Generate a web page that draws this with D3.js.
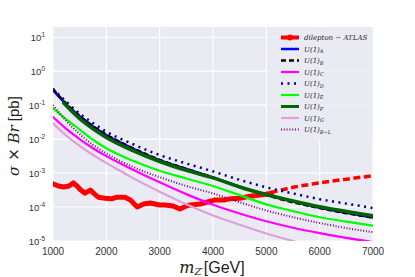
<!DOCTYPE html>
<html>
<head>
<meta charset="utf-8">
<script src="https://cdn.jsdelivr.net/npm/d3@7"></script>
<style>
  body { margin: 0; background: #fff; }
  svg { display: block; }
</style>
</head>
<body>
<div id="chart"></div>
<script>
// masses (GeV) on which the model curves were read
const masses = [1000, 1250, 1500, 1750, 2000, 2500, 3000, 3500, 4000, 4500, 5000, 5500, 6000, 6500, 7000];
const massesF = [1200, 1500, 1750, 2000, 2500, 3000, 3500, 4000, 4500, 5000, 5500, 6000, 6500, 7000];

// sigma x Br (pb)
const sigA = [0.275, 0.105, 0.0468, 0.0234, 0.0132, 0.00525, 0.0024, 0.00132, 0.000741, 0.000398, 0.000229, 0.000145, 0.0000955, 0.0000676, 0.000049];
const sigB = [0.295, 0.11, 0.0479, 0.024, 0.0135, 0.00537, 0.00245, 0.00132, 0.000741, 0.000389, 0.000224, 0.000138, 0.0000933, 0.000066, 0.000049];
const sigC = [0.0447, 0.02, 0.01, 0.00537, 0.00316, 0.00126, 0.000537, 0.00024, 0.000117, 0.0000646, 0.000038, 0.0000245, 0.000017, 0.0000123, 0.0000093];
const sigD = [0.302, 0.126, 0.0562, 0.0295, 0.0166, 0.00708, 0.00339, 0.00191, 0.00112, 0.000631, 0.00038, 0.000251, 0.00017, 0.000126, 0.0000933];
const sigE = [0.0813, 0.038, 0.0191, 0.00955, 0.00537, 0.00229, 0.00117, 0.000692, 0.000417, 0.000224, 0.00012, 0.0000759, 0.0000501, 0.0000372, 0.0000282];
const sigF = [0.115, 0.0398, 0.02, 0.0112, 0.00457, 0.00219, 0.0012, 0.000724, 0.000389, 0.000234, 0.000151, 0.000102, 0.0000741, 0.000055];
const sigG = [0.0295, 0.0126, 0.0063, 0.00339, 0.002, 0.000708, 0.000282, 0.00012, 0.0000562, 0.0000302, 0.0000166, 0.00001, 0.0000063, 0.000004, 0.0000025];
const sigBL = [0.1, 0.0339, 0.0141, 0.00676, 0.0038, 0.00151, 0.000759, 0.000417, 0.000251, 0.000138, 0.0000794, 0.0000501, 0.0000339, 0.000024, 0.0000182];

// ATLAS dilepton limit, observed (solid) and extension (dashed)
const atlasMass = [1000, 1100, 1200, 1300, 1380, 1450, 1520, 1600, 1700, 1780, 1850, 1980, 2100, 2200, 2350, 2450, 2580, 2700, 2820, 3000, 3100, 3250, 3380, 3500, 3570, 3760, 3900, 4040, 4200, 4320, 4500, 4700, 4880, 5000, 5100];
const atlasSig = [4.79e-4, 4.17e-4, 3.89e-4, 4.17e-4, 5.13e-4, 4.17e-4, 3.16e-4, 2.57e-4, 3.16e-4, 2.4e-4, 1.95e-4, 1.82e-4, 1.74e-4, 1.95e-4, 1.95e-4, 1.62e-4, 1.0e-4, 1.23e-4, 1.32e-4, 1.15e-4, 1.15e-4, 1.07e-4, 8.7e-5, 1.07e-4, 1.15e-4, 1.23e-4, 1.41e-4, 1.62e-4, 1.62e-4, 1.74e-4, 1.82e-4, 2.09e-4, 2.24e-4, 2.4e-4, 2.57e-4];
const atlasDashMass = [4500, 5000, 5500, 6000, 6500, 7000];
const atlasDashSig = [1.82e-4, 2.51e-4, 3.8e-4, 5.13e-4, 6.61e-4, 8.32e-4];

const xTicks = [1000, 2000, 3000, 4000, 5000, 6000, 7000];
const yExps = [-5, -4, -3, -2, -1, 0, 1];

const W = 415, H = 277;
const margin = {top: 27, right: 42, bottom: 36, left: 53};

const svg = d3.select('#chart').append('svg')
  .attr('width', W).attr('height', H);

const x = d3.scaleLinear().domain([1000, 7000]).range([margin.left, W - margin.right]);
const y = d3.scaleLog().domain([1e-5, 19.95]).range([H - margin.bottom, margin.top]);

// background
svg.append('rect')
  .attr('x', margin.left).attr('y', margin.top)
  .attr('width', x(7000) - x(1000)).attr('height', y(1e-5) - y(19.95))
  .attr('fill', '#eaeaf2');

svg.append('clipPath').attr('id', 'clip')
  .append('rect')
  .attr('x', margin.left).attr('y', margin.top)
  .attr('width', x(7000) - x(1000)).attr('height', y(1e-5) - y(19.95));

// grid
const grid = svg.append('g');
grid.selectAll('.vg').data(xTicks).enter().append('line')
  .attr('x1', d => x(d)).attr('x2', d => x(d))
  .attr('y1', margin.top).attr('y2', H - margin.bottom)
  .attr('stroke', '#fff').attr('stroke-width', 1.1);
grid.selectAll('.hg').data(yExps).enter().append('line')
  .attr('x1', margin.left).attr('x2', W - margin.right)
  .attr('y1', d => y(Math.pow(10, d))).attr('y2', d => y(Math.pow(10, d)))
  .attr('stroke', '#fff').attr('stroke-width', 1.1);

// x tick labels
svg.selectAll('.xt').data(xTicks).enter().append('text')
  .attr('x', d => x(d)).attr('y', H - margin.bottom + 14)
  .attr('text-anchor', 'middle')
  .style('font-family', 'Liberation Sans, Arial, sans-serif')
  .style('font-size', '10px').attr('fill', '#333')
  .text(d => d);

// y tick labels: 10^n
const yt = svg.selectAll('.yt').data(yExps).enter().append('text')
  .attr('x', margin.left - 8).attr('y', d => y(Math.pow(10, d)) + 3.5)
  .attr('text-anchor', 'end')
  .style('font-family', 'Liberation Sans, Arial, sans-serif')
  .style('font-size', '9.5px').attr('fill', '#333');
yt.append('tspan').text('10');
yt.append('tspan').attr('dy', -4).style('font-size', '6.5px').text(d => d < 0 ? '-' + (-d) : d);

// axis titles
svg.append('text')
  .attr('transform', 'translate(19,136) rotate(-90)')
  .attr('text-anchor', 'middle')
  .style('font-size', '15px').attr('fill', '#222')
  .call(t => {
    t.append('tspan').style('font-family', 'DejaVu Serif, serif').style('font-style', 'italic').text('σ');
    t.append('tspan').style('font-family', 'DejaVu Sans, sans-serif').text(' × ');
    t.append('tspan').style('font-family', 'DejaVu Serif, serif').style('font-style', 'italic').text('Br');
    t.append('tspan').style('font-family', 'Liberation Sans, Arial, sans-serif').text(' [pb]');
  });

svg.append('text')
  .attr('x', 212).attr('y', 272.5)
  .attr('text-anchor', 'middle')
  .style('font-size', '16px').attr('fill', '#222')
  .call(t => {
    t.append('tspan').style('font-family', 'DejaVu Serif, serif').style('font-style', 'italic').text('m');
    t.append('tspan').attr('dy', 2.5).style('font-family', 'DejaVu Serif, serif').style('font-style', 'italic').style('font-size', '10px').text('Z′');
    t.append('tspan').attr('dy', -2.5).style('font-family', 'Liberation Sans, Arial, sans-serif').text('[GeV]');
  });

// curves
const line = d3.line().x(d => x(d[0])).y(d => y(d[1])).curve(d3.curveMonotoneX);
const plot = svg.append('g').attr('clip-path', 'url(#clip)');

const series = [
  {name: 'atlas', m: atlasMass, s: atlasSig, color: '#ff0000', w: 5, dash: null, curve: d3.curveLinear},
  {name: 'atlasExp', m: atlasDashMass, s: atlasDashSig, color: '#ff0000', w: 3.5, dash: '7,3.5'},
  {name: 'A', m: masses, s: sigA, color: '#0000ff', w: 2.5, dash: null},
  {name: 'B', m: masses, s: sigB, color: '#000000', w: 2.5, dash: '5,3'},
  {name: 'C', m: masses, s: sigC, color: '#ff00ff', w: 2.2, dash: null},
  {name: 'D', m: masses, s: sigD, color: '#000080', w: 2.5, dash: '2,4.5'},
  {name: 'E', m: masses, s: sigE, color: '#00ff00', w: 2.2, dash: null},
  {name: 'F', m: massesF, s: sigF, color: '#006400', w: 3.5, dash: null},
  {name: 'G', m: masses, s: sigG, color: '#dda0dd', w: 2.2, dash: null},
  {name: 'BL', m: masses, s: sigBL, color: '#800080', w: 2, dash: '1,1.8'}
];

series.forEach(sr => {
  const pts = sr.m.map((m, i) => [m, sr.s[i]]);
  plot.append('path')
    .attr('d', line.curve(sr.curve || d3.curveMonotoneX)(pts))
    .attr('fill', 'none')
    .attr('stroke', sr.color)
    .attr('stroke-width', sr.w)
    .attr('stroke-linejoin', 'round')
    .attr('stroke-linecap', sr.dash ? 'butt' : 'round')
    .attr('stroke-dasharray', sr.dash);
});

// legend
const legItems = [
  {label: ['dilepton − ATLAS', ''], color: '#ff0000', w: 4, dash: null, marker: true},
  {label: ['U(1)', 'A'], color: '#0000ff', w: 2.5, dash: null},
  {label: ['U(1)', 'B'], color: '#000000', w: 2.5, dash: '5,3'},
  {label: ['U(1)', 'C'], color: '#ff00ff', w: 2.2, dash: null},
  {label: ['U(1)', 'D'], color: '#000080', w: 2.5, dash: '2,4.5'},
  {label: ['U(1)', 'E'], color: '#00ff00', w: 2.2, dash: null},
  {label: ['U(1)', 'F'], color: '#006400', w: 3, dash: null},
  {label: ['U(1)', 'G'], color: '#dda0dd', w: 2.2, dash: null},
  {label: ['U(1)', 'B−L'], color: '#800080', w: 2, dash: '1,1.8'}
];

const leg = svg.append('g');
leg.append('rect')
  .attr('x', 267).attr('y', 28).attr('width', 106).attr('height', 112)
  .attr('fill', '#eaeaf2').attr('fill-opacity', 0.8);

legItems.forEach((it, i) => {
  const yy = 37.5 + i * 11.5;
  leg.append('line')
    .attr('x1', 281).attr('x2', 299).attr('y1', yy).attr('y2', yy)
    .attr('stroke', it.color).attr('stroke-width', it.w)
    .attr('stroke-dasharray', it.dash);
  if (it.marker) {
    leg.append('circle').attr('cx', 290).attr('cy', yy).attr('r', 3).attr('fill', it.color);
  }
  const t = leg.append('text')
    .attr('x', 304).attr('y', yy + 2.5)
    .style('font-family', 'DejaVu Serif, serif').style('font-style', 'italic')
    .style('font-size', '7px').attr('fill', '#222');
  t.append('tspan').text(it.label[0]);
  if (it.label[1]) t.append('tspan').attr('dy', 1.8).style('font-size', '5px').text(it.label[1]);
});
</script>
</body>
</html>
